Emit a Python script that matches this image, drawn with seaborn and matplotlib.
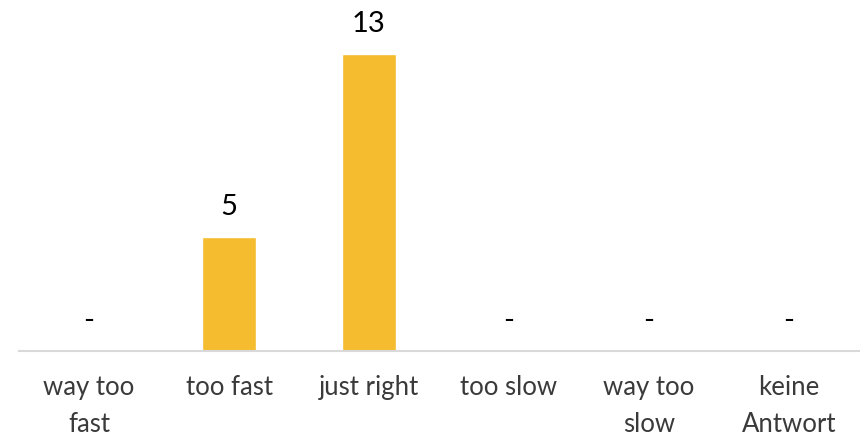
import matplotlib
matplotlib.use("Agg")
from matplotlib import pyplot as plt
import pandas as pd
import seaborn as sns

categories = ["way too\nfast", "too fast", "just right", "too slow", "way too\nslow", "keine\nAntwort"]
counts = [0, 5, 13, 0, 0, 0]

df = pd.DataFrame({"category": categories, "count": counts})

sns.set_style("white")
plt.rcParams['font.family'] = ['Lato', 'DejaVu Sans']

fig = plt.figure(figsize=(8.6, 4.37), dpi=100)
ax = fig.add_axes([19 / 860, 86 / 437, 840 / 860, 343 / 437])

sns.barplot(data=df, x="category", y="count", color="#F5BC2F", width=0.39,
            saturation=1, ax=ax)

ax.set_xlim(-0.5, 5.5)
ax.set_ylim(0, 15)

# data labels, "-" for zero
for i, v in enumerate(counts):
    label = "-" if v == 0 else str(v)
    ax.text(i, v + 0.95, label, ha="center", va="baseline", fontsize=21, color="black")

ax.set_xlabel("")
ax.set_ylabel("")
ax.set_yticks([])
ax.tick_params(axis="x", length=0, pad=17, labelsize=18.5, labelcolor="#3a3a3a")
for lab in ax.get_xticklabels():
    lab.set_linespacing(1.6)
    lab.set_verticalalignment("top")
sns.despine(ax=ax, left=True)
ax.spines["bottom"].set_color("#D9D9D9")
ax.spines["bottom"].set_linewidth(1.5)

fig.savefig("out.png", dpi=100)
